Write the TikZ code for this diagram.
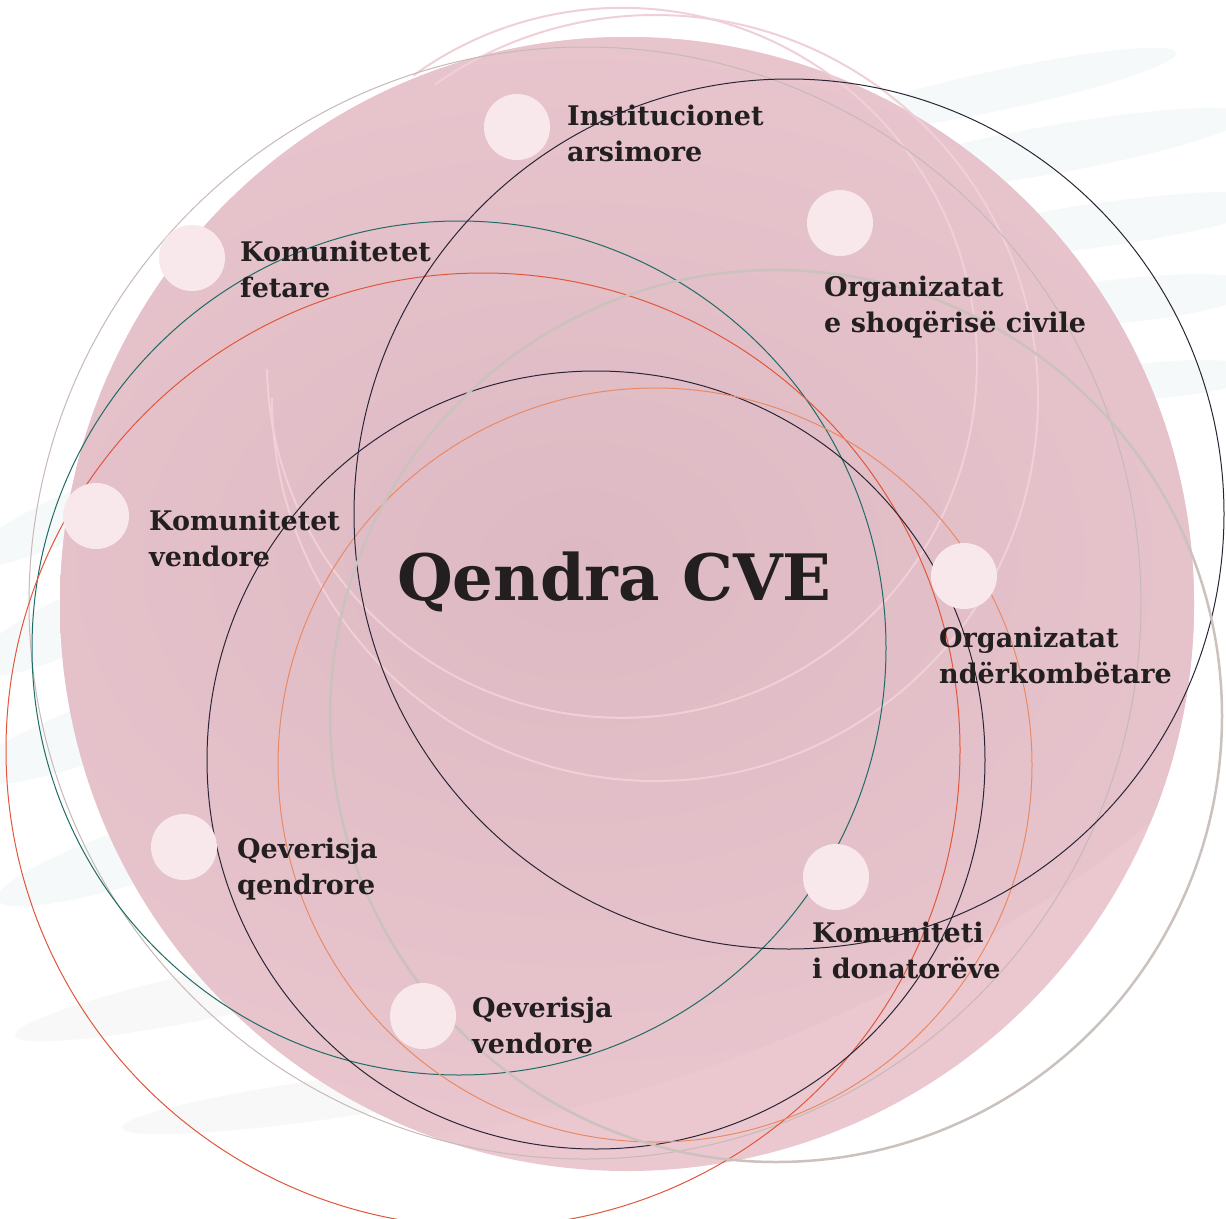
\documentclass[tikz,border=0pt]{standalone}
\usepackage{fontspec}
\setmainfont{DejaVu Serif}
\definecolor{pinkbg}{HTML}{EBC8D0}
\definecolor{pinkdk}{HTML}{DDB9C3}
\definecolor{pinkln}{HTML}{F0D0D8}
\definecolor{taupe}{HTML}{C7B9B5}
\definecolor{greyth}{HTML}{CBC2BE}
\definecolor{tealc}{HTML}{1F6B66}
\definecolor{redc}{HTML}{E2573B}
\definecolor{darkc}{HTML}{2B2637}
\definecolor{orangec}{HTML}{EA8A64}
\definecolor{dotc}{HTML}{F8E8EC}
\definecolor{txt}{HTML}{231F20}
\definecolor{streak}{HTML}{E9F0F0}
\definecolor{streakg}{HTML}{EFEDEB}
\begin{document}
\begin{tikzpicture}[x=1pt,y=-1pt,
  lbl/.style={anchor=base west, inner sep=0pt, align=left, text=txt, font=\bfseries\fontsize{27}{36}\selectfont},
  dot/.style={circle, fill=dotc, minimum size=66pt, inner sep=0pt},
  ring/.style={line width=1pt},
  brush/.style={fill=streak, opacity=0.4},
  brushg/.style={fill=streakg, opacity=0.35}]
\useasboundingbox (0,0) rectangle (1226,1218);
\fill[white] (0,0) rectangle (1226,1218);
% faint brush strokes
\fill[brush] (1000,90) ellipse[x radius=180pt, y radius=20pt, rotate=12];
\fill[brush] (1050,150) ellipse[x radius=200pt, y radius=24pt, rotate=10];
\fill[brush] (1100,225) ellipse[x radius=180pt, y radius=22pt, rotate=8];
\fill[brush] (1130,300) ellipse[x radius=130pt, y radius=22pt, rotate=6];
\fill[brush] (1160,380) ellipse[x radius=100pt, y radius=18pt, rotate=5];
\fill[brush] (60,520) ellipse[x radius=100pt, y radius=22pt, rotate=25];
\fill[brush] (80,620) ellipse[x radius=120pt, y radius=28pt, rotate=25];
\fill[brush] (100,730) ellipse[x radius=140pt, y radius=28pt, rotate=20];
\fill[brush] (150,850) ellipse[x radius=160pt, y radius=28pt, rotate=18];
\fill[brushg] (230,990) ellipse[x radius=220pt, y radius=24pt, rotate=12];
\fill[brushg] (320,1100) ellipse[x radius=200pt, y radius=20pt, rotate=8];
% main disc
\fill[pinkbg] (627,604) circle[radius=567pt];
\begin{scope}
\clip (627,604) circle[radius=567pt];
\shade[inner color=pinkdk, outer color=pinkbg, rotate around={22:(580,560)}] (580,560) ellipse[x radius=900pt, y radius=520pt];
\end{scope}
% rings
\draw[pinkln, line width=2pt] (267,369) arc[start angle=181, end angle=486, radius=355pt];
\draw[pinkln, line width=2pt] (272,398) arc[start angle=180, end angle=485, radius=383pt];
\draw[ring, taupe] (585,603) circle[radius=556pt];
\draw[ring, tealc] (459,648) circle[radius=427pt];
\draw[ring, redc] (483,750) circle[radius=477pt];
\draw[ring, darkc] (596,760) circle[radius=389pt];
\draw[ring, orangec] (655,765) circle[radius=377pt];
\draw[ring, darkc] (789,514) circle[radius=435pt];
\draw[greyth, line width=2.5pt] (776,716) circle[radius=446pt];
% dots
\node[dot] (d1) at (517,127) {};
\node[dot] (d2) at (192,258) {};
\node[dot] (d3) at (96,516) {};
\node[dot] (d4) at (840,223) {};
\node[dot] (d5) at (964,576) {};
\node[dot] (d6) at (836,877) {};
\node[dot] (d7) at (184,847) {};
\node[dot] (d8) at (423,1016) {};
% labels (anchor at baseline of the last line)
\node[lbl] (l1) at (567,161) {Institucionet\\arsimore};
\node[lbl] (l2) at (240,297) {Komunitetet\\fetare};
\node[lbl] (l3) at (149,566) {Komunitetet\\vendore};
\node[lbl] (l4) at (824,332) {Organizatat\\e shoqërisë civile};
\node[lbl] (l5) at (939,683) {Organizatat\\ndërkombëtare};
\node[lbl] (l6) at (812,978) {Komuniteti\\i donatorëve};
\node[lbl] (l7) at (237,894) {Qeverisja\\qendrore};
\node[lbl] (l8) at (472,1053) {Qeverisja\\vendore};
\node[anchor=base west, inner sep=0pt, text=txt, font=\bfseries\fontsize{64}{70}\selectfont] (c) at (397,600) {Qendra CVE};
\end{tikzpicture}
\end{document}
